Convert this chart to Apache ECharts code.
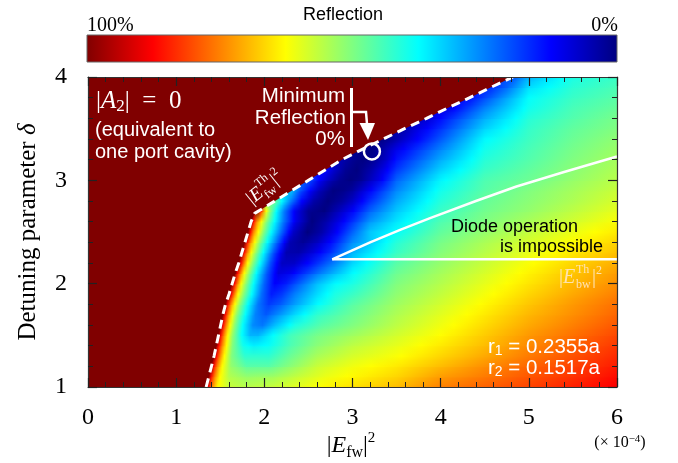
<!DOCTYPE html>
<html>
<head>
<meta charset="utf-8">
<script src="https://cdn.jsdelivr.net/npm/echarts@6/dist/echarts.min.js"></script>
<style>
  html, body { margin: 0; padding: 0; background: #fff; }
  #chart { width: 678px; height: 463px; }
</style>
</head>
<body>
<div id="chart"></div>
<script>
// Reflection map over forward intensity |E_fw|^2 (x, in units of 1e-4) and detuning δ (y).

// Detuning value of each sampled row
const detuningRows = [1.0, 1.1, 1.2, 1.3, 1.4, 1.5, 1.6, 1.7, 1.8, 1.9, 2.0,
                      2.1, 2.2, 2.3, 2.4, 2.5, 2.6, 2.7, 2.8, 2.9, 3.0,
                      3.1, 3.2, 3.3, 3.4, 3.5, 3.6, 3.7, 3.8, 3.9, 4.0];

// Reflection (0..1) along each row as [|E_fw|^2, R] pairs, starting at the threshold
const reflectionRows = [
  [[1.34,1],[1.37,.86],[1.41,.74],[1.47,.63],[1.6,.57],[1.8,.555],[2.1,.57],[2.4,.6],[2.7,.63],[3,.655],[3.5,.69],[4,.75],[4.5,.78],[5,.81],[5.5,.845],[6,.88]],
  [[1.37,1],[1.4,.86],[1.44,.74],[1.495,.63],[1.6,.55],[1.8,.52],[2.1,.53],[2.4,.57],[2.7,.605],[3,.63],[3.5,.665],[4,.72],[4.5,.755],[5,.79],[5.5,.825],[6,.865]],
  [[1.4,1],[1.43,.86],[1.47,.74],[1.52,.63],[1.62,.52],[1.8,.46],[2.05,.46],[2.3,.51],[2.6,.57],[3,.61],[3.5,.645],[4,.69],[4.5,.735],[5,.775],[5.5,.81],[6,.85]],
  [[1.43,1],[1.46,.86],[1.5,.74],[1.545,.63],[1.63,.5],[1.78,.42],[2.05,.42],[2.3,.48],[2.6,.54],[3,.585],[3.5,.62],[4,.665],[4.5,.71],[5,.755],[5.5,.795],[6,.835]],
  [[1.455,1],[1.485,.86],[1.525,.74],[1.57,.63],[1.64,.5],[1.76,.39],[1.88,.36],[2.05,.38],[2.3,.45],[2.6,.51],[3,.56],[3.5,.6],[4,.645],[4.5,.69],[5,.74],[5.5,.78],[6,.82]],
  [[1.48,1],[1.51,.86],[1.545,.74],[1.585,.63],[1.64,.52],[1.74,.38],[1.84,.3],[1.93,.3],[2.09,.37],[2.3,.44],[2.6,.49],[3,.53],[3.5,.58],[4,.625],[4.5,.675],[5,.725],[5.5,.765],[6,.805]],
  [[1.505,1],[1.535,.86],[1.57,.74],[1.61,.63],[1.665,.51],[1.76,.37],[1.87,.26],[1.98,.24],[2.12,.31],[2.35,.4],[2.65,.46],[3,.5],[3.5,.56],[4,.61],[4.5,.66],[5,.71],[5.5,.75],[6,.79]],
  [[1.53,1],[1.56,.86],[1.595,.74],[1.635,.63],[1.69,.51],[1.79,.37],[1.9,.25],[2.02,.21],[2.15,.26],[2.35,.34],[2.6,.42],[2.8,.45],[3,.48],[3.5,.545],[4,.595],[4.5,.645],[5,.695],[5.5,.735],[6,.775]],
  [[1.56,1],[1.59,.86],[1.625,.74],[1.665,.63],[1.725,.51],[1.82,.37],[1.93,.24],[2.05,.18],[2.18,.21],[2.35,.28],[2.6,.37],[2.8,.42],[3,.46],[3.5,.53],[4,.58],[4.5,.63],[5,.68],[5.5,.725],[6,.765]],
  [[1.6,1],[1.63,.86],[1.665,.74],[1.7,.63],[1.77,.5],[1.86,.37],[1.97,.23],[2.08,.15],[2.2,.18],[2.35,.25],[2.6,.34],[2.8,.4],[3,.43],[3.5,.515],[4,.565],[4.5,.615],[5,.665],[5.5,.71],[6,.75]],
  [[1.635,1],[1.665,.86],[1.7,.74],[1.735,.63],[1.8,.5],[1.89,.36],[2,.22],[2.12,.12],[2.25,.15],[2.4,.22],[2.6,.31],[2.8,.37],[3,.4],[3.5,.5],[4,.55],[4.5,.6],[5,.65],[5.5,.695],[6,.735]],
  [[1.67,1],[1.7,.86],[1.735,.74],[1.77,.63],[1.835,.5],[1.92,.36],[2.03,.21],[2.16,.09],[2.3,.11],[2.45,.17],[2.65,.25],[2.85,.32],[3,.37],[3.5,.48],[4,.535],[4.5,.585],[5,.635],[5.5,.68],[6,.72]],
  [[1.71,1],[1.74,.86],[1.775,.74],[1.81,.63],[1.875,.5],[1.96,.36],[2.07,.2],[2.2,.065],[2.34,.07],[2.5,.13],[2.7,.21],[2.9,.29],[3,.335],[3.5,.46],[4,.52],[4.5,.57],[5,.62],[5.5,.665],[6,.705]],
  [[1.745,1],[1.775,.86],[1.81,.74],[1.85,.63],[1.915,.5],[2,.36],[2.11,.2],[2.25,.045],[2.39,.04],[2.55,.09],[2.75,.17],[3,.3],[3.5,.43],[4,.505],[4.5,.555],[5,.6],[5.5,.645],[6,.685]],
  [[1.78,1],[1.81,.86],[1.845,.74],[1.89,.63],[1.955,.5],[2.04,.37],[2.15,.22],[2.29,.05],[2.44,.02],[2.6,.06],[2.8,.15],[3,.26],[3.5,.41],[4,.49],[4.5,.54],[5,.585],[5.5,.625],[6,.665]],
  [[1.815,1],[1.845,.86],[1.88,.74],[1.93,.63],[1.995,.5],[2.08,.37],[2.19,.23],[2.33,.07],[2.49,0],[2.65,.04],[2.8,.11],[3,.22],[3.2,.32],[3.5,.38],[4,.47],[4.5,.52],[5,.565],[5.5,.605],[6,.645]],
  [[1.85,1],[1.88,.86],[1.915,.74],[1.965,.63],[2.03,.5],[2.12,.37],[2.22,.24],[2.36,.1],[2.54,0],[2.7,.04],[2.85,.1],[3,.17],[3.2,.27],[3.5,.35],[4,.45],[4.5,.5],[5,.54],[5.5,.58],[6,.62]],
  [[1.93,1],[1.96,.86],[1.99,.74],[2.02,.63],[2.07,.5],[2.14,.37],[2.23,.24],[2.35,.11],[2.5,.02],[2.68,0],[2.85,.06],[3,.12],[3.2,.22],[3.5,.32],[4,.43],[4.5,.485],[5,.52],[5.5,.56],[6,.6]],
  [[2.12,.48],[2.2,.37],[2.3,.25],[2.42,.13],[2.56,.04],[2.72,0],[2.88,.03],[3,.07],[3.2,.17],[3.5,.29],[4,.41],[4.5,.475],[5,.51],[5.5,.545],[6,.585]],
  [[2.31,.32],[2.4,.22],[2.5,.14],[2.62,.06],[2.78,0],[2.9,.01],[3,.03],[3.2,.12],[3.5,.255],[4,.39],[4.5,.46],[5,.5],[5.5,.535],[6,.57]],
  [[2.5,.22],[2.6,.14],[2.72,.07],[2.85,.02],[2.98,0],[3.1,.02],[3.3,.1],[3.5,.22],[4,.365],[4.5,.45],[5,.48],[5.5,.52],[6,.555]],
  [[2.69,.13],[2.8,.07],[2.92,.02],[3.05,0],[3.2,.04],[3.35,.1],[3.5,.18],[4,.33],[4.5,.43],[5,.47],[5.5,.51],[6,.545]],
  [[2.88,.05],[3,.02],[3.12,0],[3.25,.02],[3.38,.07],[3.5,.14],[4,.29],[4.5,.41],[5,.455],[5.5,.5],[6,.535]],
  [[3.11,.01],[3.22,0],[3.35,.04],[3.5,.1],[4,.25],[4.5,.39],[5,.445],[5.5,.49],[6,.525]],
  [[3.35,.01],[3.45,.03],[3.6,.08],[4,.21],[4.5,.37],[5,.435],[5.5,.48],[6,.515]],
  [[3.59,.04],[3.7,.08],[4,.17],[4.5,.33],[5,.425],[5.5,.47],[6,.5]],
  [[3.84,.07],[4,.13],[4.5,.29],[5,.41],[5.5,.455],[6,.49]],
  [[4.08,.1],[4.5,.25],[5,.39],[5.5,.445],[6,.475]],
  [[4.33,.13],[4.5,.19],[5,.375],[5.5,.43],[6,.46]],
  [[4.57,.16],[4.75,.22],[5,.34],[5.5,.415],[6,.445]],
  [[4.82,.2],[4.9,.25],[5,.3],[5.5,.4],[6,.43]]
];

// Forward threshold |E_fw^Th|^2 (dashed), left of which |A2| = 0
const fwThresholdX = [1.34,1.37,1.40,1.43,1.455,1.48,1.505,1.53,1.56,1.60,1.635,1.67,1.71,1.745,1.78,1.815,1.85,1.89,
                      2.12,2.31,2.5,2.69,2.88,3.11,3.35,3.59,3.84,4.08,4.33,4.57,4.82];
const fwThresholdY = [1.0,1.1,1.2,1.3,1.4,1.5,1.6,1.7,1.8,1.9,2.0,2.1,2.2,2.3,2.4,2.5,2.6,2.68,
                      2.8,2.9,3.0,3.1,3.2,3.3,3.4,3.5,3.6,3.7,3.8,3.9,4.0];

// Upper edge of the region where diode operation is impossible
const diodeEdgeX = [2.77, 3.2, 3.54, 3.88, 4.4, 4.86, 5.4, 6.0];
const diodeEdgeY = [2.236, 2.4, 2.52, 2.635, 2.8, 2.94, 3.08, 3.23];

// Backward threshold |E_bw^Th|^2
const bwThresholdX = [2.77, 6.0];
const bwThresholdY = [2.236, 2.236];

// Minimum reflection (0 %)
const minimumPoint = [3.22, 3.28];

// Reversed jet colour scale: reflection 0 -> navy ... 1 -> dark red
const colormapKnots = [
  [0, 0, 128], [0, 0, 255], [0, 128, 255], [0, 255, 255], [128, 255, 128],
  [255, 255, 0], [255, 128, 0], [255, 0, 0], [128, 0, 0]
];

function reflectionColor(r) {
  const t = Math.max(0, Math.min(1, r)) * 8;
  const i = Math.min(7, Math.floor(t));
  const f = t - i;
  const a = colormapKnots[i], b = colormapKnots[i + 1];
  return 'rgb(' + [0, 1, 2].map(k => Math.round(a[k] + (b[k] - a[k]) * f)).join(',') + ')';
}

// Gradient stops for one row; colour-scale knots crossed between samples get their own stop
function rowGradientStops(stops) {
  const out = [];
  for (let j = 0; j < stops.length; j++) {
    const x = stops[j][0], r = stops[j][1];
    if (j > 0) {
      const x0 = stops[j - 1][0], r0 = stops[j - 1][1];
      if (r !== r0 && x !== x0) {
        const lo = Math.min(r0, r), hi = Math.max(r0, r);
        const ks = [];
        for (let k = 1; k < 8; k++) { const v = k / 8; if (v > lo && v < hi) ks.push(v); }
        if (r < r0) ks.reverse();
        ks.forEach(v => {
          const xt = x0 + (v - r0) / (r - r0) * (x - x0);
          out.push({ offset: xt / 6, color: reflectionColor(v) });
        });
      }
    }
    out.push({ offset: x / 6, color: reflectionColor(r) });
  }
  return out;
}

const rowGradients = reflectionRows.map(rowGradientStops);
function rowFill(i) {
  return new echarts.graphic.LinearGradient(0, 0, 1, 0, rowGradients[i]);
}

const SERIF = '"Liberation Serif", "Times New Roman", serif';
const SANS = '"Liberation Sans", Arial, sans-serif';

const colorbarStops = colormapKnots.map((c, k) => ({
  offset: k / 8, color: reflectionColor(1 - k / 8)
}));

const chart = echarts.init(document.getElementById('chart'), null, { renderer: 'canvas' });

const axisBase = {
  type: 'value',
  z: 10,
  axisLine: { show: true, onZero: false, lineStyle: { color: '#333', width: 1.2 } },
  axisTick: { show: true, inside: true, length: 9, lineStyle: { color: '#222', width: 1.2 } },
  minorTick: { show: true, splitNumber: 5, length: 5, lineStyle: { color: '#222', width: 1 } },
  splitLine: { show: false },
  minorSplitLine: { show: false }
};

function txt(x, y, text, font, fill, align, extra) {
  return Object.assign({
    type: 'text', x: x, y: y, z: 100,
    style: {
      text: text, font: font, fill: fill,
      textAlign: align, align: align,
      textVerticalAlign: 'middle', verticalAlign: 'middle'
    }
  }, extra || {});
}

function richTxt(x, y, text, align, rich, extra) {
  return Object.assign({
    type: 'text', x: x, y: y, z: 100,
    style: {
      text: text, textAlign: align, align: align,
      textVerticalAlign: 'middle', verticalAlign: 'middle', rich: rich
    }
  }, extra || {});
}

const thLabelColor = '#ffe2b0';

const graphics = [
  // colour scale bar
  {
    type: 'rect', z: 100,
    shape: { x: 87, y: 35, width: 530, height: 27 },
    style: { fill: new echarts.graphic.LinearGradient(0, 0, 1, 0, colorbarStops), stroke: '#666', lineWidth: 1 }
  },
  txt(343, 15, 'Reflection', '18px ' + SANS, '#000', 'center'),
  txt(87, 26, '100%', '20px ' + SERIF, '#000', 'left'),
  txt(618, 26, '0%', '20px ' + SERIF, '#000', 'right'),

  // annotations inside the map
  richTxt(96, 101, '{n||}{i|A}{s|2}{n||  =  0}', 'left', {
    n: { font: '25px ' + SERIF, fill: '#fff', lineHeight: 28 },
    i: { font: 'italic 25px ' + SERIF, fill: '#fff', lineHeight: 28 },
    s: { font: '17px ' + SERIF, fill: '#fff', verticalAlign: 'bottom', lineHeight: 18 }
  }),
  txt(95, 130, '(equivalent to', '20px ' + SANS, '#fff', 'left'),
  txt(95, 152, 'one port cavity)', '20px ' + SANS, '#fff', 'left'),
  txt(345, 96, 'Minimum', '20.5px ' + SANS, '#fff', 'right'),
  txt(346, 118, 'Reflection', '20.5px ' + SANS, '#fff', 'right'),
  txt(345, 139, '0%', '20.5px ' + SANS, '#fff', 'right'),
  { type: 'line', z: 100, shape: { x1: 351.5, y1: 88, x2: 351.5, y2: 147 }, style: { stroke: '#fff', lineWidth: 3 } },
  { type: 'polyline', z: 100, shape: { points: [[351.5, 112], [366, 112], [367, 124]] }, style: { stroke: '#fff', lineWidth: 2.5, fill: null } },
  { type: 'polygon', z: 100, shape: { points: [[359.5, 123], [375, 123], [368, 140]] }, style: { fill: '#fff' } },

  txt(578, 227, 'Diode operation', '18px ' + SANS, '#000', 'right'),
  txt(603, 247, 'is impossible', '18px ' + SANS, '#000', 'right'),
  richTxt(600, 347, '{n|r}{s|1}{n| = 0.2355a}', 'right', {
    n: { font: '20.5px ' + SANS, fill: '#fff', lineHeight: 22 },
    s: { font: '14px ' + SANS, fill: '#fff', verticalAlign: 'bottom', lineHeight: 14 }
  }),
  richTxt(600, 368, '{n|r}{s|2}{n| = 0.1517a}', 'right', {
    n: { font: '20.5px ' + SANS, fill: '#fff', lineHeight: 22 },
    s: { font: '14px ' + SANS, fill: '#fff', verticalAlign: 'bottom', lineHeight: 14 }
  }),

  // |E_bw^Th|^2 label
  {
    type: 'group', x: 559, y: 278, z: 100,
    children: [
      txt(0, 0, '|', '20px ' + SERIF, thLabelColor, 'left'),
      txt(4, 0, 'E', 'italic 20px ' + SERIF, thLabelColor, 'left'),
      txt(17, -8, 'Th', '12px ' + SERIF, thLabelColor, 'left'),
      txt(17, 7, 'bw', '12px ' + SERIF, thLabelColor, 'left'),
      txt(33, 0, '|', '20px ' + SERIF, thLabelColor, 'left'),
      txt(37, -7, '2', '12px ' + SERIF, thLabelColor, 'left')
    ]
  },
  // |E_fw^Th|^2 label, along the threshold
  {
    type: 'group', x: 249, y: 201, rotation: 0.68, z: 100,
    children: [
      txt(0, 0, '|', '19px ' + SERIF, '#fff', 'left'),
      txt(4, 0, 'E', 'italic 19px ' + SERIF, '#fff', 'left'),
      txt(16, -8, 'Th', '12px ' + SERIF, '#fff', 'left'),
      txt(16, 7, 'fw', '12px ' + SERIF, '#fff', 'left'),
      txt(31, 0, '|', '19px ' + SERIF, '#fff', 'left'),
      txt(35, -7, '2', '12px ' + SERIF, '#fff', 'left')
    ]
  },

  // axis titles
  richTxt(351, 446, '{n||}{i|E}{s|fw}{n||}{p|2}', 'center', {
    n: { font: '24px ' + SERIF, fill: '#000', lineHeight: 30 },
    i: { font: 'italic 24px ' + SERIF, fill: '#000', lineHeight: 30 },
    s: { font: '16px ' + SERIF, fill: '#000', verticalAlign: 'bottom', lineHeight: 14 },
    p: { font: '15px ' + SERIF, fill: '#000', verticalAlign: 'top', lineHeight: 14 }
  }),
  richTxt(620, 443, '{n|(× 10}{p|−4}{n|)}', 'center', {
    n: { font: '16px ' + SERIF, fill: '#000', lineHeight: 18 },
    p: { font: '11px ' + SERIF, fill: '#000', verticalAlign: 'top', lineHeight: 11 }
  }),
  richTxt(28, 232, '{n|Detuning parameter }{i|δ}', 'center', {
    n: { font: '25px ' + SERIF, fill: '#000', lineHeight: 30 },
    i: { font: 'italic 25px ' + SERIF, fill: '#000', lineHeight: 30 }
  }, { rotation: Math.PI / 2 })
];

const option = {
  animation: false,
  backgroundColor: '#fff',
  grid: { left: 88, top: 77, width: 529, height: 310, containLabel: false, outerBoundsMode: 'none' },
  xAxis: [
    Object.assign({}, axisBase, {
      position: 'bottom', min: 0, max: 6, interval: 1,
      axisLabel: { show: true, fontFamily: SERIF, fontSize: 24, color: '#000', margin: 19 }
    }),
    Object.assign({}, axisBase, {
      position: 'top', min: 0, max: 6, interval: 1, axisLabel: { show: false }
    })
  ],
  yAxis: [
    Object.assign({}, axisBase, {
      position: 'left', min: 1, max: 4, interval: 1,
      axisLabel: { show: true, fontFamily: SERIF, fontSize: 24, color: '#000', margin: 21 }
    }),
    Object.assign({}, axisBase, {
      position: 'right', min: 1, max: 4, interval: 1, axisLabel: { show: false }
    })
  ],
  series: [
    {
      // reflection field: each band between two sampled rows is shaded from the lower row to the upper one
      type: 'custom',
      coordinateSystem: 'cartesian2d',
      xAxisIndex: 0, yAxisIndex: 0,
      z: 1,
      silent: true,
      clip: true,
      encode: { x: 0, y: 1 },
      data: detuningRows.map(y => [0, y]),
      renderItem: function (params, api) {
        const i = params.dataIndex;
        if (i >= detuningRows.length - 1) return { type: 'group', children: [] };
        const lower = api.coord([0, detuningRows[i]]);
        const upper = api.coord([6, detuningRows[i + 1]]);
        const x0 = lower[0], w = upper[0] - lower[0];
        const yBot = lower[1], yTop = upper[1];
        const overlap = i > 0 ? 0.6 : 0;
        const children = [{
          type: 'rect',
          shape: { x: x0, y: yTop, width: w, height: yBot - yTop + overlap },
          style: { fill: rowFill(i) }
        }];
        const n = Math.max(2, Math.round(yBot - yTop));
        const h = (yBot - yTop) / n;
        for (let k = 0; k < n; k++) {
          children.push({
            type: 'rect',
            shape: { x: x0, y: yBot - (k + 1) * h, width: w, height: h },
            style: { fill: rowFill(i + 1), opacity: (k + 0.5) / n }
          });
        }
        return { type: 'group', children: children };
      }
    },
    {
      // |A2| = 0 region (100 % reflection) left of the threshold
      type: 'line',
      z: 2,
      silent: true,
      showSymbol: false,
      lineStyle: { width: 0, opacity: 0 },
      areaStyle: { color: reflectionColor(1), opacity: 1, origin: 'end' },
      data: [[0, 1]].concat(fwThresholdX.map((x, k) => [x, fwThresholdY[k]]))
    },
    {
      type: 'line', z: 3, silent: true, showSymbol: false,
      lineStyle: { color: '#fff', width: 2.5 },
      data: diodeEdgeX.map((x, k) => [x, diodeEdgeY[k]])
    },
    {
      type: 'line', z: 3, silent: true, showSymbol: false,
      lineStyle: { color: '#fff', width: 2.5 },
      data: bwThresholdX.map((x, k) => [x, bwThresholdY[k]])
    },
    {
      type: 'line', z: 4, silent: true, showSymbol: false,
      lineStyle: { color: '#fff', width: 3, type: [9, 6] },
      data: fwThresholdX.map((x, k) => [x, fwThresholdY[k]])
    },
    {
      type: 'scatter', z: 5, silent: true,
      symbol: 'circle', symbolSize: 16,
      itemStyle: { color: 'rgba(0,0,0,0)', borderColor: '#fff', borderWidth: 2.5, opacity: 1 },
      data: [minimumPoint]
    }
  ],
  graphic: { elements: graphics }
};

chart.setOption(option);
</script>
</body>
</html>
